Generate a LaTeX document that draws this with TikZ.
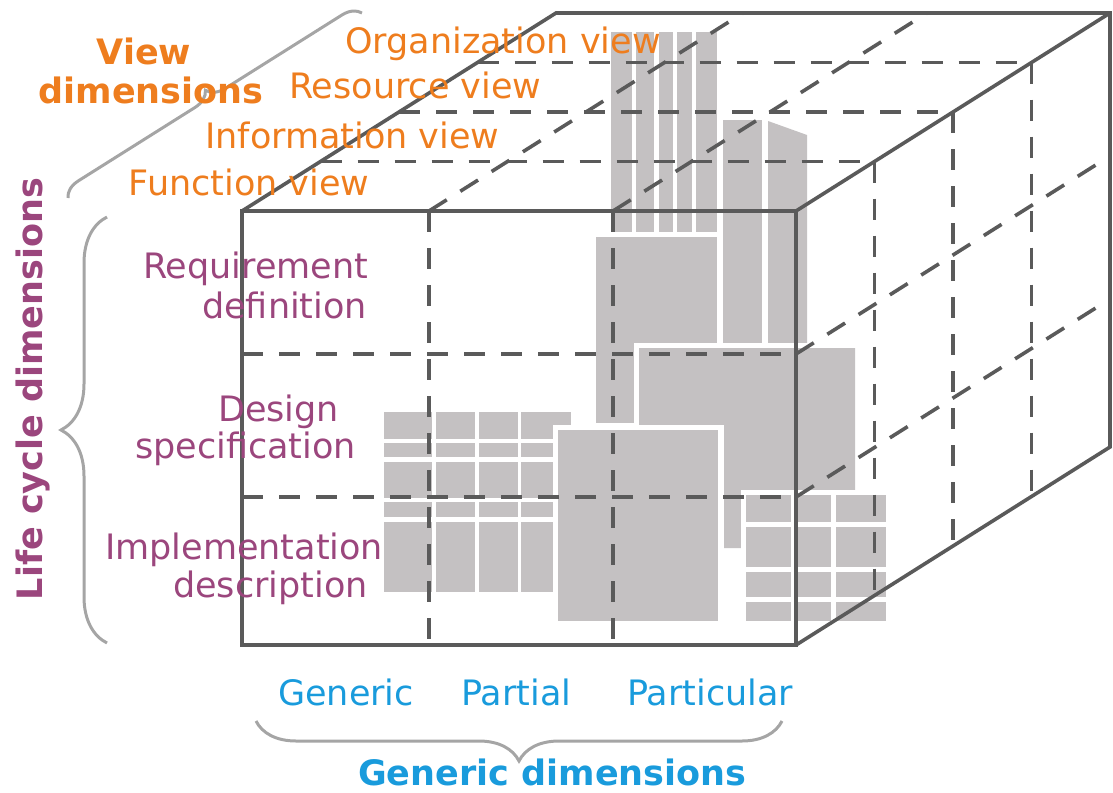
\documentclass[tikz,border=0pt]{standalone}
\usepackage{fontspec}
\setmainfont{DejaVu Sans}
\usetikzlibrary{decorations.pathreplacing}
\definecolor{edgegray}{RGB}{90,90,90}
\definecolor{bracegray}{RGB}{165,165,165}
\definecolor{blockgray}{RGB}{196,193,194}
\definecolor{vieworange}{RGB}{238,125,30}
\definecolor{lifepurple}{RGB}{155,70,125}
\definecolor{genblue}{RGB}{25,155,220}

\begin{document}
\begin{tikzpicture}[x=1pt,y=-1pt,
   edge/.style={draw=edgegray,line width=3.6pt},
   hidden/.style={draw=edgegray,line width=3.6pt,dash pattern=on 21pt off 16pt},
   block/.style={fill=blockgray,preaction={draw=white,line width=11pt}},
   cell/.style={fill=blockgray},
   bracket/.style={draw=bracegray,line width=3pt,decorate},
   txt/.style={font=\fontsize{35}{42}\selectfont,inner sep=0pt},
   boldtxt/.style={font=\fontsize{35}{42}\selectfont\bfseries,inner sep=0pt},
   viewlabel/.style={txt,text=vieworange,anchor=base west},
   lifelabel/.style={txt,text=lifepurple,anchor=base west},
   genlabel/.style={txt,text=genblue,anchor=base west}]
\useasboundingbox (0,0) rectangle (1113,792);

\coordinate (ftl) at (242,211);
\coordinate (ftr) at (796,211);
\coordinate (fbl) at (242,645);
\coordinate (fbr) at (796,645);
\coordinate (btl) at (556,13);
\coordinate (btr) at (1110,13);
\coordinate (bbr) at (1110,447);

% blocks, back to front
\foreach \xa/\xb in {611/632,636/654,659/673,677/692,696/717}
   \fill[cell] (\xa,32) rectangle (\xb,232);
\path[block] (596,237) rectangle (717,423);
\path[block] (723,120) rectangle (762,400);
\path[block] (768,121) -- (807,135) -- (807,400) -- (768,400) -- cycle;
\path[block] (639,348) -- (855,348) -- (855,490) -- (760,490) -- (760,548) -- (700,548) -- (700,490) -- (639,490) -- cycle;
\foreach \xa/\xb in {384/432,436/475,479/518,521/571}
   \foreach \ya/\yb in {412/439,443/457,462/498,502/517,522/592}
      \fill[cell] (\xa,\ya) rectangle (\xb,\yb);
\path[block] (558,430) rectangle (718,621);
\fill[white] (740.5,489.5) rectangle (891.5,626.5);
\foreach \xa/\xb in {746/791,797/831,836/886}
   \foreach \ya/\yb in {495/522,527/567,572/597,602/621}
      \fill[cell] (\xa,\ya) rectangle (\xb,\yb);

% hidden grid
\foreach \x in {429,613} {
   \draw[hidden] (\x,211) -- (\x,645);
   \draw[hidden] (\x,211) -- ++(314,-198);
}
\foreach \y in {354,497} {
   \draw[hidden] (242,\y) -- (796,\y);
   \draw[hidden] (796,\y) -- ++(314,-198);
}
\foreach \k in {1,2,3} {
   \draw[hidden] ({242+78.5*\k},{211-49.5*\k}) -- ++(554,0);
   \draw[hidden] ({796+78.5*\k},{211-49.5*\k}) -- ++(0,434);
}

% cube
\draw[edge] (fbl) rectangle (ftr);
\draw[edge] (ftl) -- (btl) -- (btr) -- (bbr) -- (fbr);
\draw[edge] (ftr) -- (btr);

% braces
\draw[bracket,decoration={brace,amplitude=18pt}] (68,198) -- (362,13);
\draw[bracket,decoration={brace,amplitude=46pt}] (107,643) -- (107,217);
\draw[bracket,decoration={brace,amplitude=40pt}] (782,721) -- (256,721);

% labels
\node[boldtxt,text=vieworange,anchor=base] (viewtop) at (144,65) {View};
\node[boldtxt,text=vieworange,anchor=base] (viewbot) at (151,103) {dimensions};
\node[viewlabel] (org) at (345,53) {Organization view};
\node[viewlabel] (res) at (289,98) {Resource view};
\node[viewlabel] (inf) at (205,148) {Information view};
\node[viewlabel] (fun) at (128.6,195) {Function view};

\node[boldtxt,text=lifepurple,rotate=90,anchor=base] (life) at (42,389) {Life cycle dimensions};
\node[lifelabel] (reqa) at (143,278) {Requirement};
\node[lifelabel] (reqb) at (202,318) {definition};
\node[lifelabel] (desa) at (218,421) {Design};
\node[lifelabel] (desb) at (135,458) {specification};
\node[lifelabel] (impa) at (105,559) {Implementation};
\node[lifelabel] (impb) at (173,597) {description};

\node[genlabel] (generic) at (278,705) {Generic};
\node[genlabel] (partial) at (461,705) {Partial};
\node[genlabel] (particular) at (627,705) {Particular};
\node[boldtxt,text=genblue,anchor=base west] (gendim) at (358,785) {Generic dimensions};
\end{tikzpicture}
\end{document}
